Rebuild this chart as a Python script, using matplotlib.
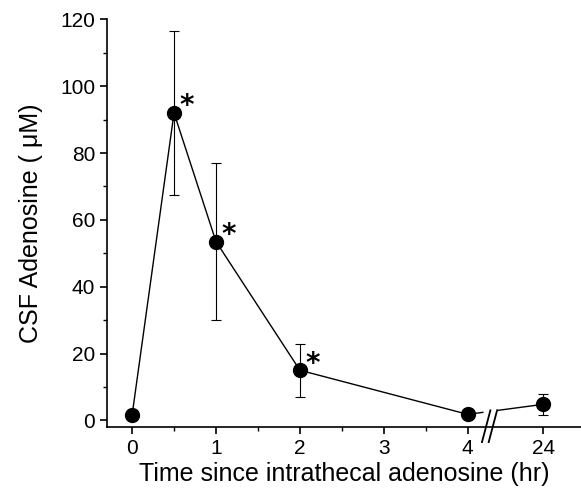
import matplotlib.pyplot as plt
import numpy as np
from matplotlib import font_manager

# data
times = [0, 0.5, 1, 2, 4, 24]
adenosine = [1.5, 92, 53.5, 15, 1.8, 4.8]
err_low = [0, 24.5, 23.5, 8, 0, 3.2]
err_high = [0, 24.5, 23.5, 8, 0, 3.2]
xtick_labels = ['0', '1', '2', '3', '4', '24']
signif = [False, True, True, True, False, False]

names = {f.name for f in font_manager.fontManager.ttflist}
fam = 'Liberation Sans Narrow' if 'Liberation Sans Narrow' in names else 'Liberation Sans'
plt.rcParams['font.family'] = [fam, 'DejaVu Sans']

# broken axis: 24 h is drawn at position 4.9
pos24 = 4.9
xpos = [t if t <= 4 else pos24 for t in times]

fig = plt.figure(figsize=(5.81, 4.96), dpi=100)
ax = fig.add_axes([0.184, 0.139, 0.816, 0.822])

# line through the first five points
ax.plot(xpos[:5], adenosine[:5], color='black', lw=1.0, zorder=2)
# broken segment from 4 to 24
x0, y0 = xpos[4], adenosine[4]
x1, y1 = xpos[5], adenosine[5]
for f_a, f_b in [(0, 0.2), (0.4, 1)]:
    ax.plot([x0 + f_a * (x1 - x0), x0 + f_b * (x1 - x0)],
            [y0 + f_a * (y1 - y0), y0 + f_b * (y1 - y0)],
            color='black', lw=1.0, zorder=2)

ax.errorbar(xpos, adenosine, yerr=[err_low, err_high], fmt='none',
            ecolor='black', elinewidth=0.8, capsize=3.5, capthick=0.8, zorder=2)
ax.plot(xpos, adenosine, 'o', color='black', ms=10, zorder=3)

for x, y, s in zip(xpos, adenosine, signif):
    if s:
        ax.text(x + 0.07, y + 2, '*', fontsize=20, fontweight='bold',
                ha='left', va='center', family='DejaVu Sans')

ax.set_xlim(-0.3, 5.35)
ax.set_ylim(-2, 120)
ax.set_xticks(xpos[:1] + [1, 2, 3, 4] + xpos[5:])
ax.set_xticklabels(xtick_labels)
ax.set_xticks([0.5, 1.5, 2.5, 3.5], minor=True)
ax.set_yticks(range(0, 121, 20))
ax.set_yticks(range(10, 120, 20), minor=True)

for s in ['top', 'right']:
    ax.spines[s].set_visible(False)
for s in ['left', 'bottom']:
    ax.spines[s].set_linewidth(1.2)
ax.tick_params(axis='both', which='major', direction='out', length=5, width=1.2,
               labelsize=15)
ax.tick_params(axis='both', which='minor', direction='out', length=3, width=1.0)

# axis break marks
for dx in [4.22, 4.30]:
    ax.plot([dx - 0.05, dx + 0.05], [-6.5, 3], color='black', lw=1.3,
            clip_on=False, zorder=4)

ax.set_xlabel('Time since intrathecal adenosine (hr)', fontsize=18, labelpad=3)
ax.set_ylabel('CSF Adenosine ( \u03bcM)', fontsize=18, labelpad=12)

fig.savefig('out.png', dpi=100)
